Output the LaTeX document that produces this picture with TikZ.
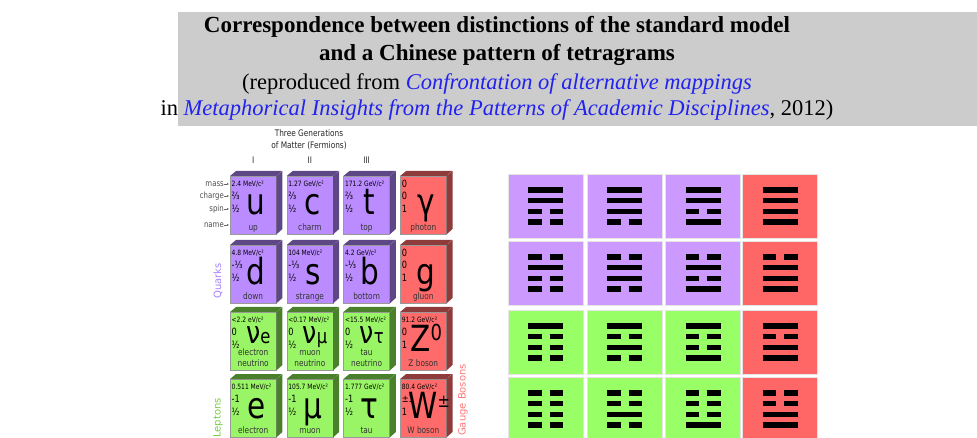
\documentclass[tikz,border=0pt]{standalone}
\usepackage{fontspec}
\setmainfont{Liberation Serif}
\newfontfamily\smfont{DejaVu Sans}[FakeStretch=0.82]
\newfontfamily\smlabelfont{DejaVu Sans}
\usepackage{tikz}
\usetikzlibrary{arrows.meta}
\definecolor{smbanner}{HTML}{CCCCCC}
\definecolor{smlink}{HTML}{2222EE}
\definecolor{smpurple}{HTML}{BB8CFF}
\definecolor{smpurpledark}{HTML}{5E4785}
\definecolor{smgreen}{HTML}{99F566}
\definecolor{smgreendark}{HTML}{4A7F2C}
\definecolor{smred}{HTML}{FF6B6B}
\definecolor{smreddark}{HTML}{8E3B3B}
\definecolor{smquarklabel}{HTML}{A580FF}
\definecolor{smleptonlabel}{HTML}{77CC44}
\definecolor{smbosonlabel}{HTML}{FF7777}
\definecolor{tilepurple}{HTML}{CC99FF}
\definecolor{tilegreen}{HTML}{99FF66}
\definecolor{tilered}{HTML}{FF6666}
% card: name, x, y (front top left), colour, mass, charge, spin, symbol, label
\newcommand{\smcard}[9]{%
  \node[cardface, fill=#4] (#1) at (#2,#3) {};
  \fill[#4dark] (#1.north west) -- ++(6,-5) -- ++(46,0) -- (#1.north east) -- cycle;
  \fill[#4dark] (#1.north east) -- ++(6,-5) -- ++(0,58) -- (#1.south east) -- cycle;
  \node[masstext] (#1-m) at ([xshift=1.5pt,yshift=-8pt]#1.north west) {#5};
  \node[qntext] (#1-c) at ([xshift=1.5pt,yshift=-20pt]#1.north west) {#6};
  \node[qntext] (#1-s) at ([xshift=1.5pt,yshift=-33pt]#1.north west) {#7};
  \node[symtext] (#1-y) at ([xshift=3pt,yshift=-39pt]#1.north) {#8};
  \node[nametext] (#1-n) at ([yshift=1.5pt]#1.south) {#9};
}
% tetragram: name, x, y (centre), colour, lines top to bottom (1 solid, 0 broken)
\newcommand{\tetra}[5]{%
  \node[tile, fill=#4] (#1) at (#2,#3) {};
  \begin{scope}[shift={(#1.center)}]
    \foreach \b [count=\i] in {#5} {
      \pgfmathsetmacro{\ly}{-16.2+10.8*(\i-1)}
      \ifnum\b=1
        \draw[yaoline] (-17.5,\ly) -- (17.5,\ly);
      \else
        \draw[yaoline] (-17.5,\ly) -- (-4,\ly);
        \draw[yaoline] (4,\ly) -- (17.5,\ly);
      \fi
    }
  \end{scope}
}
\newcommand{\qnzero}{{\fontsize{10}{10}\selectfont 0}}
\newcommand{\nusym}[1]{\hspace{4pt}\raisebox{8pt}{\fontsize{31}{31}\selectfont ν{\fontsize{20}{20}\selectfont #1}}}
\begin{document}
\begin{tikzpicture}[x=1pt, y=-1pt,
  cardface/.style={rectangle, anchor=north west, minimum width=46pt, minimum height=58pt, inner sep=0pt, draw=black!40, line width=0.4pt},
  masstext/.style={anchor=west, inner sep=0pt, font=\smfont\fontsize{7.3}{8}\selectfont},
  qntext/.style={anchor=west, inner sep=0pt, font=\smfont\fontsize{10}{10}\selectfont},
  symtext/.style={anchor=base, inner sep=0pt, font=\smfont\fontsize{36}{36}\selectfont},
  nametext/.style={anchor=south, inner sep=0pt, text depth=2.2pt, align=center, font=\smfont\fontsize{9}{10.5}\selectfont, text=black!80},
  legtext/.style={anchor=east, inner sep=0pt, font=\smfont\fontsize{8.5}{9}\selectfont, text=black!70},
  legarrow/.style={-{Latex[length=2pt,width=2pt]}, black!60, line width=0.4pt, shorten >=1pt},
  hdrtext/.style={inner sep=0pt, font=\smfont\fontsize{9}{9}\selectfont, text=black!85},
  grouptext/.style={rotate=90, inner sep=0pt, font=\smlabelfont\fontsize{10}{10}\selectfont},
  tile/.style={rectangle, minimum width=75pt, minimum height=64pt, inner sep=0pt, draw=black!10, line width=0.6pt},
  yaoline/.style={line width=5.5pt, black}]
\useasboundingbox (0,0) rectangle (977,438);
\clip (0,0) rectangle (977,438);
% title banner
\fill[smbanner] (178,12) rectangle (977,126);
\node[anchor=base, inner sep=0pt, font=\bfseries\fontsize{23}{23}\selectfont] (ttl1) at (497,33) {Correspondence between distinctions of the standard model};
\node[anchor=base, inner sep=0pt, font=\bfseries\fontsize{23}{23}\selectfont] (ttl2) at (497,61) {and a Chinese pattern of tetragrams};
\node[anchor=base, inner sep=0pt, font=\fontsize{22.5}{22.5}\selectfont] (ttl3) at (497,90) {(reproduced from \textcolor{smlink}{\itshape Confrontation of alternative mappings}};
\node[anchor=base, inner sep=0pt, font=\fontsize{22.5}{22.5}\selectfont] (ttl4) at (497,116) {in \textcolor{smlink}{\itshape Metaphorical Insights from the Patterns of Academic Disciplines}, 2012)};
% particle cards
\smcard{u}{230}{176}{smpurple}{2.4 MeV/c²}{⅔}{½}{u}{up}
\smcard{c}{286.7}{176}{smpurple}{1.27 GeV/c²}{⅔}{½}{c}{charm}
\smcard{t}{343.4}{176}{smpurple}{171.2 GeV/c²}{⅔}{½}{t}{top}
\smcard{ph}{400.1}{176}{smred}{\qnzero}{0}{1}{γ}{photon}
\smcard{d}{230}{245}{smpurple}{4.8 MeV/c²}{-⅓}{½}{d}{down}
\smcard{s}{286.7}{245}{smpurple}{104 MeV/c²}{-⅓}{½}{s}{strange}
\smcard{b}{343.4}{245}{smpurple}{4.2 GeV/c²}{-⅓}{½}{b}{bottom}
\smcard{gl}{400.1}{245}{smred}{\qnzero}{0}{1}{g}{gluon}
\smcard{nue}{230}{312}{smgreen}{<2.2 eV/c²}{0}{½}{\nusym{e}}{electron\\neutrino}
\smcard{numu}{286.7}{312}{smgreen}{<0.17 MeV/c²}{0}{½}{\nusym{μ}}{muon\\neutrino}
\smcard{nutau}{343.4}{312}{smgreen}{<15.5 MeV/c²}{0}{½}{\nusym{τ}}{tau\\neutrino}
\smcard{zb}{400.1}{312}{smred}{91.2 GeV/c²}{0}{1}{Z\raisebox{11pt}{\fontsize{22}{22}\selectfont 0}}{Z boson}
\smcard{el}{230}{379}{smgreen}{0.511 MeV/c²}{-1}{½}{e}{electron}
\smcard{mu}{286.7}{379}{smgreen}{105.7 MeV/c²}{-1}{½}{μ}{muon}
\smcard{tau}{343.4}{379}{smgreen}{1.777 GeV/c²}{-1}{½}{τ}{tau}
\smcard{wb}{400.1}{379}{smred}{80.4 GeV/c²}{±1}{1}{\hspace{6pt}W\raisebox{11pt}{\fontsize{18}{18}\selectfont ±}}{W boson}
% headings and legend
\node[hdrtext] (hdr1) at (309,133) {Three Generations};
\node[hdrtext] (hdr2) at (309,146) {of Matter (Fermions)};
\node[hdrtext] (gen1) at ([yshift=16pt]u.north) {I};
\node[hdrtext] (gen2) at ([yshift=16pt]c.north) {II};
\node[hdrtext] (gen3) at ([yshift=16pt]t.north) {III};
\node[legtext] (lg-mass) at (224,184) {mass};
\node[legtext] (lg-charge) at (224,196) {charge};
\node[legtext] (lg-spin) at (224,209) {spin};
\node[legtext] (lg-name) at (224,225) {name};
\draw[legarrow] (lg-mass.east) -- (lg-mass.east -| u.west);
\draw[legarrow] (lg-charge.east) -- (lg-charge.east -| u.west);
\draw[legarrow] (lg-spin.east) -- (lg-spin.east -| u.west);
\draw[legarrow] (lg-name.east) -- (lg-name.east -| u.west);
\node[grouptext, text=smquarklabel] (lq) at (218,281) {Quarks};
\node[grouptext, text=smleptonlabel] (ll) at (218,418) {Leptons};
\node[grouptext, text=smbosonlabel] (lgb) at (463,400) {Gauge Bosons};
% tetragram tiles
\tetra{q11}{545.5}{206}{tilepurple}{1,1,0,0}
\tetra{q12}{624.5}{206}{tilepurple}{1,1,1,0}
\tetra{q13}{703}{206}{tilepurple}{1,1,0,1}
\tetra{q14}{780}{206}{tilered}{1,1,1,1}
\tetra{q21}{545.5}{273}{tilepurple}{0,1,0,0}
\tetra{q22}{624.5}{273}{tilepurple}{0,1,1,0}
\tetra{q23}{703}{273}{tilepurple}{0,1,0,1}
\tetra{q24}{780}{273}{tilered}{0,1,1,1}
\tetra{q31}{545.5}{342}{tilegreen}{1,0,0,0}
\tetra{q32}{624.5}{342}{tilegreen}{1,0,1,0}
\tetra{q33}{703}{342}{tilegreen}{1,0,0,1}
\tetra{q34}{780}{342}{tilered}{1,0,1,1}
\tetra{q41}{545.5}{409}{tilegreen}{0,0,0,0}
\tetra{q42}{624.5}{409}{tilegreen}{0,0,1,0}
\tetra{q43}{703}{409}{tilegreen}{0,0,0,1}
\tetra{q44}{780}{409}{tilered}{0,0,1,1}
\end{tikzpicture}
\end{document}
